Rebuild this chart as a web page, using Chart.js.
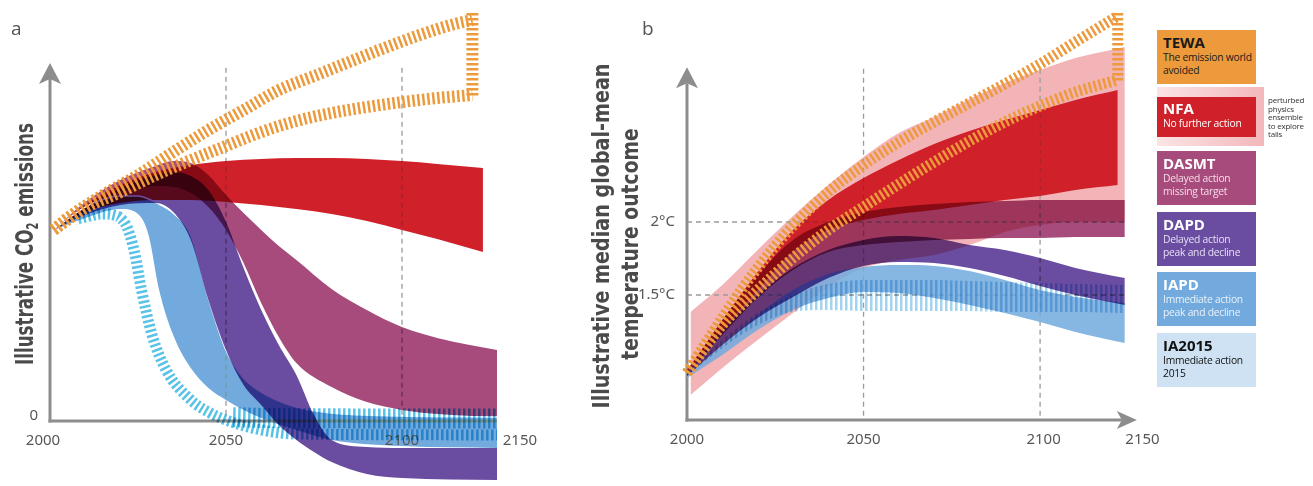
<!DOCTYPE html>
<html>
<head>
<meta charset="utf-8">
<script src="https://cdn.jsdelivr.net/npm/chart.js@4.4.1/dist/chart.umd.min.js"></script>
<style>
  body { margin: 0; background: #fff; width: 1313px; height: 486px; overflow: hidden; position: relative;
         font-family: "Open Sans", "Noto Sans", sans-serif; }
  canvas { position: absolute; top: 0; }
  #chartA { left: 0; }
  #chartB { left: 560px; }
  .letter { position: absolute; font-size: 19px; color: #555; line-height: 1; }
  .ytitle { position: absolute; white-space: nowrap; font-weight: bold; color: #4a4a4a; line-height: 1;
            font-family: "Liberation Sans Narrow", "DejaVu Sans Condensed", "Open Sans", sans-serif; }
  .ytitle sub { font-size: 60%; vertical-align: baseline; position: relative; top: 0.3em; }
  .key { position: absolute; left: 1157px; width: 99px; height: 54px; box-sizing: border-box; padding: 4px 6px; white-space: nowrap; }
  .key b { display: block; font-size: 15px; line-height: 17px; }
  .key span { display: block; font-size: 10.3px; line-height: 13px; letter-spacing: -0.25px; }
  #ppe { position: absolute; left: 1157px; top: 87px; width: 107px; height: 59px;
         background: linear-gradient(to right, #fbe4e5, #f3b7bb); }
  #ppeNote { position: absolute; left: 1268px; top: 96px; font-size: 8px; line-height: 8.6px; color: #333; letter-spacing: -0.2px; }
</style>
</head>
<body>
<canvas id="chartA" width="560" height="486"></canvas>
<canvas id="chartB" width="600" height="486"></canvas>

<div class="letter" style="left:11px;top:19px">a</div>
<div class="letter" style="left:642px;top:19px">b</div>
<div class="ytitle" id="titleA" style="left:24px;top:244px;font-size:25px">Illustrative CO<sub>2</sub> emissions</div>
<div class="ytitle" id="titleB1" style="left:601px;top:236px;font-size:23px">Illustrative median global-mean</div>
<div class="ytitle" id="titleB2" style="left:630px;top:244px;font-size:23px">temperature outcome</div>

<div class="key" style="top:30px;background:#ec9a3c;color:#1a1a1a"><b>TEWA</b><span>The emission world<br>avoided</span></div>
<div id="ppe"></div>
<div class="key" style="top:97px;height:40px;padding-top:3px;background:#d0212b;color:#fff"><b>NFA</b><span>No further action</span></div>
<div id="ppeNote">perturbed<br>physics<br>ensemble<br>to explore<br>tails</div>
<div class="key" style="top:151px;background:#a64b7c;color:#fff"><b>DASMT</b><span style="color:#f6dce9">Delayed action<br>missing target</span></div>
<div class="key" style="top:212px;background:#6a4ca0;color:#fff"><b>DAPD</b><span style="color:#e7e1f4">Delayed action<br>peak and decline</span></div>
<div class="key" style="top:272px;background:#72aadd;color:#fff"><b>IAPD</b><span style="color:#eaf3fb">Immediate action<br>peak and decline</span></div>
<div class="key" style="top:333px;background:#cfe2f3;color:#111"><b>IA2015</b><span>Immediate action<br>2015</span></div>

<script>
// ---------- panel a: illustrative CO2 emissions (arbitrary units, 0 = zero line) ----------
const yearsNfaA = [2001, 2010, 2020, 2030, 2040, 2050, 2060, 2070, 2080, 2090, 2100, 2110, 2123];
const nfaHighA = [10.0, 11.31, 12.36, 13.04, 13.40, 13.61, 13.72, 13.77, 13.77, 13.72, 13.61, 13.46, 13.25];
const nfaLowA = [10.0, 10.94, 11.41, 11.57, 11.57, 11.47, 11.31, 11.10, 10.84, 10.47, 10.0, 9.53, 8.85];

const yearsDasmtA = [2001, 2010, 2020, 2030, 2035, 2040, 2045, 2050, 2055, 2060, 2065, 2070, 2080, 2090, 2100, 2110, 2127];
const dasmtHighA = [10.0, 11.47, 12.62, 13.35, 13.61, 13.51, 12.88, 11.83, 10.89, 10.0, 9.16, 8.43, 6.91, 5.81, 4.92, 4.35, 3.72];
const dasmtLowA = [10.0, 11.15, 11.99, 12.30, 12.25, 11.94, 11.20, 10.0, 8.27, 6.18, 4.40, 3.04, 1.78, 0.99, 0.58, 0.37, 0.21];

const yearsDapdA = [2001, 2010, 2020, 2030, 2035, 2040, 2045, 2050, 2055, 2060, 2065, 2070, 2075, 2080, 2090, 2100, 2127];
const dapdHighA = [10.0, 11.15, 12.20, 12.88, 13.04, 12.83, 12.09, 10.42, 8.01, 5.81, 3.98, 2.41, 0.31, -0.99, -1.36, -1.41, -1.41];
const dapdLowA = [10.0, 10.79, 11.31, 11.41, 10.94, 9.48, 6.34, 3.72, 1.88, 0.84, -0.21, -0.99, -1.62, -2.15, -2.77, -2.98, -3.09];

const yearsIapdA = [2001, 2010, 2020, 2025, 2028, 2031, 2035, 2040, 2045, 2050, 2055, 2060, 2070, 2080, 2100, 2127];
const iapdHighA = [10.0, 11.20, 11.78, 11.78, 11.62, 11.36, 10.89, 9.74, 6.44, 3.72, 2.25, 1.52, 0.73, 0.42, 0.26, 0.21];
const iapdLowA = [10.0, 10.63, 11.10, 10.84, 9.74, 6.86, 4.50, 2.77, 1.73, 1.10, 0.58, 0.16, -0.47, -0.99, -1.31, -1.41];

const yearsIaLowA = [2008, 2010, 2015, 2018, 2020, 2022, 2024, 2026, 2029, 2033, 2040, 2045, 2050, 2060, 2070, 2127];
const iaLowA = [10.60, 10.68, 10.84, 10.79, 10.63, 10.10, 8.85, 6.86, 4.50, 2.67, 1.10, 0.47, 0.05, -0.47, -0.68, -0.73];
const yearsIaHighA = [2052, 2060, 2080, 2100, 2127];
const iaHighA = [0.2, 0.16, 0.14, 0.13, 0.13];

const yearsTewaHighA = [2001, 2005, 2015, 2025, 2035, 2045, 2055, 2065, 2075, 2085, 2095, 2105, 2115, 2120];
const tewaHighA = [10.0, 10.63, 11.83, 12.88, 14.08, 15.24, 16.28, 17.33, 18.06, 18.80, 19.53, 20.21, 20.79, 20.99];
const yearsTewaLowA = [2001, 2010, 2020, 2030, 2040, 2050, 2060, 2070, 2080, 2090, 2100, 2110, 2120];
const tewaLowA = [10.0, 11.15, 11.99, 12.88, 13.66, 14.40, 15.13, 15.71, 16.13, 16.44, 16.70, 16.91, 17.07];
const tewaEdgeA = [21.36, 16.91];

// ---------- panel b: median global-mean temperature (degC) ----------
const yearsB = [2000, 2010, 2020, 2030, 2040, 2050, 2060, 2070, 2080, 2090, 2100, 2110, 2124];
const yearsNfaB = [2000, 2010, 2020, 2030, 2040, 2050, 2060, 2070, 2080, 2090, 2100, 2110, 2122];
const yearsPpeB = [2001, 2010, 2020, 2030, 2040, 2050, 2060, 2070, 2080, 2090, 2100, 2110, 2124];

const ppeHighB = [1.384, 1.568, 1.808, 2.041, 2.253, 2.445, 2.610, 2.719, 2.842, 2.952, 3.041, 3.123, 3.199];
const ppeLowB = [0.815, 1.0, 1.192, 1.377, 1.555, 1.685, 1.740, 1.774, 1.842, 1.932, 1.98, 2.0, 2.0];
const nfaHighB = [0.986, 1.329, 1.658, 1.945, 2.151, 2.301, 2.425, 2.534, 2.623, 2.699, 2.767, 2.836, 2.904];
const nfaLowB = [0.973, 1.260, 1.534, 1.795, 1.945, 2.014, 2.055, 2.082, 2.116, 2.151, 2.178, 2.219, 2.253];
const dasmtHighB = [0.973, 1.329, 1.637, 1.877, 2.0, 2.068, 2.103, 2.123, 2.137, 2.144, 2.151, 2.151, 2.151];
const dasmtLowB = [0.959, 1.226, 1.479, 1.671, 1.795, 1.842, 1.863, 1.877, 1.884, 1.890, 1.890, 1.897, 1.897];
const dapdHighB = [0.966, 1.260, 1.5, 1.685, 1.808, 1.877, 1.904, 1.890, 1.842, 1.808, 1.753, 1.685, 1.616];
const dapdLowB = [0.945, 1.158, 1.342, 1.486, 1.616, 1.699, 1.726, 1.719, 1.685, 1.630, 1.562, 1.5, 1.432];
const iapdHighB = [0.952, 1.158, 1.363, 1.534, 1.644, 1.692, 1.705, 1.699, 1.664, 1.603, 1.534, 1.486, 1.445];
const iapdLowB = [0.932, 1.089, 1.260, 1.397, 1.479, 1.521, 1.514, 1.479, 1.432, 1.377, 1.315, 1.247, 1.171];
const iaHighB = [0.959, 1.192, 1.377, 1.5, 1.575, 1.603, 1.603, 1.603, 1.596, 1.589, 1.582, 1.575, 1.568];
const iaLowB = [0.945, 1.137, 1.295, 1.384, 1.397, 1.390, 1.390, 1.390, 1.390, 1.384, 1.384, 1.384, 1.377];

const yearsTewaHighB = [2000, 2005, 2010, 2015, 2020, 2025, 2030, 2040, 2050, 2060, 2070, 2080, 2090, 2100, 2110, 2122];
const tewaHighB = [0.966, 1.158, 1.342, 1.521, 1.685, 1.836, 1.973, 2.205, 2.390, 2.548, 2.685, 2.815, 2.945, 3.082, 3.233, 3.411];
const yearsTewaLowB = [2000, 2005, 2010, 2020, 2030, 2040, 2050, 2060, 2070, 2080, 2090, 2100, 2110, 2122];
const tewaLowB = [0.966, 1.137, 1.295, 1.534, 1.753, 1.945, 2.103, 2.260, 2.411, 2.555, 2.685, 2.795, 2.890, 2.973];
const tewaEdgeB = [3.432, 2.952];

// ticks
const xTickLabels = ['2000', '2050', '2100', '2150'];
const xTicksA = [1998, 2050, 2100, 2133.5];
const xTicksB = [2000, 2050, 2101, 2129];
const yTicksA = [0], yLabelsA = ['0'];
const yTicksB = [2, 1.5], yLabelsB = ['2°C', '1.5°C'];

const C = {
  tewa: '#ec9a3c', nfa: '#d0212b', ppe: '#f3b4b8', dasmt: '#a64b7c',
  dapd: '#6a4ca0', iapd: '#72aadd', iapdSoft: 'rgba(114,170,221,0.86)', ia: '#59c2e7', iaLight: '#a3d4ef'
};

function pts(xs, ys) { return xs.map((x, i) => ({ x, y: ys[i] })); }

function band(xs, hi, lo, color, order, extra) {
  return [
    Object.assign({ data: pts(xs, hi), fill: '+1', backgroundColor: color, borderWidth: 0, order, clip: false }, extra || {}),
    { data: pts(xs, lo), fill: false, borderWidth: 0, borderColor: 'transparent', order, clip: false }
  ];
}

function hatch(xs, ys, color, width, order, blend) {
  return { data: pts(xs, ys), fill: false, borderColor: color, borderWidth: width,
           borderDash: [2.5, 2.5], borderCapStyle: 'butt', order, clip: false, blend };
}

function edge(x, ys, color, width, order, blend) {
  const d = hatch([x, x], ys, color, width, order, blend);
  d.tension = 0; d.cubicInterpolationMode = 'default';
  return d;
}

function stripes(color) {
  const c = document.createElement('canvas');
  c.width = 5; c.height = 5;
  const g = c.getContext('2d');
  g.fillStyle = color; g.fillRect(0, 0, 2.5, 5);
  return g.createPattern(c, 'repeat');
}

// axes, dashed guides and labels; bands are composited with 'darken' unless a dataset asks otherwise
function frame(cfg) {
  const setBlend = (chart, meta) => {
    chart.ctx.globalCompositeOperation = (meta && chart.data.datasets[meta.index].blend) || 'darken';
  };
  return {
    id: 'frame',
    beforeDatasetsDraw(chart) {
      const ctx = chart.ctx;
      const X = v => chart.scales.x.getPixelForValue(v);
      const Y = v => chart.scales.y.getPixelForValue(v);
      const x0 = X(cfg.originX), y0 = Y(cfg.originY);
      ctx.save();
      ctx.strokeStyle = '#9a9a9a'; ctx.lineWidth = 1.3; ctx.setLineDash([5, 4]);
      cfg.vGrid.forEach(v => { ctx.beginPath(); ctx.moveTo(X(v), Y(cfg.vGridTop)); ctx.lineTo(X(v), y0); ctx.stroke(); });
      cfg.hGrid.forEach(v => { ctx.beginPath(); ctx.moveTo(x0, Y(v)); ctx.lineTo(X(cfg.hGridEnd), Y(v)); ctx.stroke(); });
      ctx.setLineDash([]);

      ctx.strokeStyle = ctx.fillStyle = '#8d8d8d'; ctx.lineWidth = 3;
      const tipY = Y(cfg.yArrowTip);
      ctx.beginPath(); ctx.moveTo(x0, y0 + 1.5); ctx.lineTo(x0, tipY + 16); ctx.stroke();
      ctx.beginPath(); ctx.moveTo(x0, tipY); ctx.lineTo(x0 + 11, tipY + 21); ctx.lineTo(x0, tipY + 16);
      ctx.lineTo(x0 - 11, tipY + 21); ctx.closePath(); ctx.fill();
      const endX = X(cfg.xAxisEnd);
      ctx.beginPath(); ctx.moveTo(x0 - 1.5, y0); ctx.lineTo(cfg.xArrow ? endX - 15 : endX, y0); ctx.stroke();
      if (cfg.xArrow) {
        ctx.beginPath(); ctx.moveTo(endX, y0); ctx.lineTo(endX - 20, y0 - 9); ctx.lineTo(endX - 15, y0);
        ctx.lineTo(endX - 20, y0 + 9); ctx.closePath(); ctx.fill();
      }

      ctx.fillStyle = '#575757';
      ctx.font = '15px "Noto Sans", "Open Sans", sans-serif';
      ctx.textBaseline = 'middle';
      ctx.textAlign = 'center';
      cfg.xTicks.forEach((v, i) => ctx.fillText(xTickLabels[i], X(v), y0 + 20));
      ctx.textAlign = 'right';
      cfg.yTicks.forEach((v, i) => ctx.fillText(cfg.yLabels[i], x0 - cfg.yLabelGap, Y(v) + cfg.yLabelDy));
      ctx.restore();
      const metas = chart.getSortedVisibleDatasetMetas();
      setBlend(chart, metas[metas.length - 1]);
    },
    beforeDatasetDraw(chart, args) {
      const ds = chart.data.datasets[args.index];
      if (ds.lineBlend) chart.ctx.globalCompositeOperation = ds.lineBlend;
    },
    afterDatasetDraw(chart, args) {
      const metas = chart.getSortedVisibleDatasetMetas();
      setBlend(chart, metas[metas.indexOf(args.meta) - 1]);
    },
    afterDatasetsDraw(chart) { chart.ctx.globalCompositeOperation = 'source-over'; }
  };
}

function baseOptions(padding, xMax, yMin, yMax) {
  return {
    responsive: false, animation: false, events: [],
    layout: { padding },
    scales: {
      x: { type: 'linear', min: 2000, max: xMax, display: false },
      y: { type: 'linear', min: yMin, max: yMax, display: false }
    },
    plugins: { legend: { display: false }, tooltip: { enabled: false } },
    elements: { point: { radius: 0 }, line: { cubicInterpolationMode: 'monotone' } }
  };
}

new Chart(document.getElementById('chartA'), {
  type: 'line',
  data: {
    datasets: [
      ...band(yearsNfaA, nfaHighA, nfaLowA, C.nfa, 70),
      ...band(yearsDasmtA, dasmtHighA, dasmtLowA, C.dasmt, 60, { blend: 'multiply' }),
      ...band(yearsIapdA, iapdHighA, iapdLowA, C.iapd, 50, { borderColor: '#ffffff', borderWidth: 1.6, lineBlend: 'source-over' }),
      ...band(yearsDapdA, dapdHighA, dapdLowA, C.dapd, 40, { blend: 'multiply' }),
      hatch(yearsIaLowA, iaLowA, C.ia, 11, 20, 'multiply'),
      hatch(yearsIaHighA, iaHighA, C.ia, 20, 20, 'multiply'),
      hatch(yearsTewaHighA, tewaHighA, C.tewa, 12, 10, 'source-over'),
      hatch(yearsTewaLowA, tewaLowA, C.tewa, 12, 10, 'source-over'),
      edge(2120, tewaEdgeA, C.tewa, 12, 10, 'source-over')
    ]
  },
  options: baseOptions({ left: 50, right: 52.4, top: 2, bottom: 2 }, 2130, -3.3, 21.94),
  plugins: [frame({
    originX: 2000, originY: 0, yArrowTip: 18.74, xAxisEnd: 2127, xArrow: false,
    vGrid: [2050, 2100], vGridTop: 18.5, hGrid: [], hGridEnd: 2127,
    xTicks: xTicksA, yTicks: yTicksA, yLabels: yLabelsA, yLabelGap: 12, yLabelDy: -5
  })]
});

new Chart(document.getElementById('chartB'), {
  type: 'line',
  data: {
    datasets: [
      ...band(yearsPpeB, ppeHighB, ppeLowB, C.ppe, 90),
      ...band(yearsNfaB, nfaHighB, nfaLowB, C.nfa, 80),
      ...band(yearsB, dasmtHighB, dasmtLowB, C.dasmt, 70, { blend: 'multiply' }),
      ...band(yearsB, iapdHighB, iapdLowB, C.iapdSoft, 60, { blend: 'source-over' }),
      ...band(yearsB, dapdHighB, dapdLowB, C.dapd, 50, { blend: 'multiply' }),
      ...band(yearsB, iaHighB, iaLowB, stripes(C.iaLight), 20, { blend: 'multiply' }),
      hatch(yearsTewaHighB, tewaHighB, C.tewa, 11, 10, 'source-over'),
      hatch(yearsTewaLowB, tewaLowB, C.tewa, 11, 10, 'source-over'),
      edge(2122, tewaEdgeB, C.tewa, 11, 10, 'source-over')
    ]
  },
  options: baseOptions({ left: 127, right: 14, top: 3, bottom: 1.2 }, 2130, 0.2, 3.5),
  plugins: [frame({
    originX: 2000, originY: 0.644, yArrowTip: 3.06, xAxisEnd: 2127.4, xArrow: true,
    vGrid: [2050, 2100], vGridTop: 3.05, hGrid: [2, 1.5], hGridEnd: 2124,
    xTicks: xTicksB, yTicks: yTicksB, yLabels: yLabelsB, yLabelGap: 12, yLabelDy: 0
  })]
});

// rotated axis titles, squeezed to the reference length
function fitTitle(id, len) {
  const el = document.getElementById(id);
  const k = len / el.offsetWidth;
  el.style.transform = 'translate(-50%,-50%) rotate(-90deg) scaleX(' + k + ')';
}
fitTitle('titleA', 242);
fitTitle('titleB1', 345);
fitTitle('titleB2', 232);
</script>
</body>
</html>
